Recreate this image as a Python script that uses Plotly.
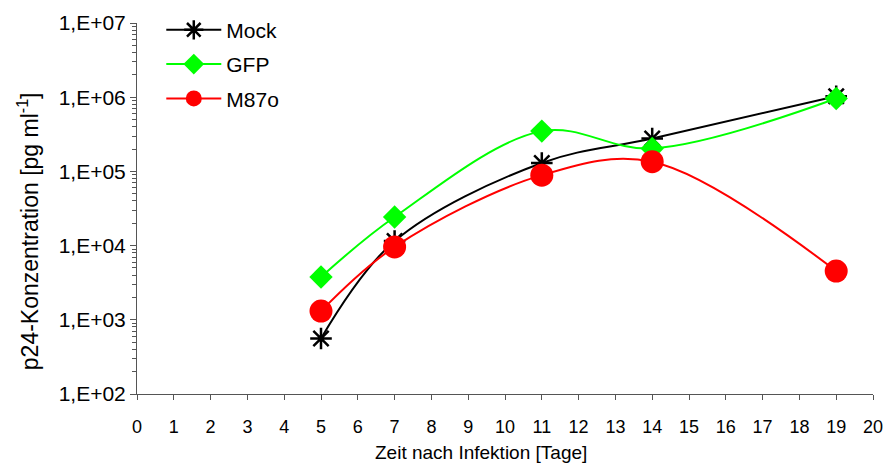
import plotly.graph_objects as go

# Tage nach Infektion
days = [5, 7, 11, 14, 19]

# p24-Konzentration in pg/ml
mock = [560, 11500, 130000, 278000, 1030000]
gfp = [3770, 24300, 349000, 204000, 960000]
m87o = [1310, 9600, 89000, 135000, 4540]

y_tick_vals = [1e2, 1e3, 1e4, 1e5, 1e6, 1e7]
y_tick_text = ["1,E+02", "1,E+03", "1,E+04", "1,E+05", "1,E+06", "1,E+07"]
x_tick_vals = list(range(0, 21))

minor_vals = [m * 10 ** e for e in range(2, 7) for m in range(2, 10)]

FONT = "Liberation Sans, Arial, sans-serif"

fig = go.Figure()

fig.add_trace(go.Scatter(
    x=days, y=mock, name="Mock", mode="lines+markers", legendgroup="mock",
    line=dict(color="black", width=2, shape="spline", smoothing=1),
    marker=dict(symbol="asterisk-open", size=18, color="black",
                line=dict(color="black", width=2.5)),
))
fig.add_trace(go.Scatter(
    x=days, y=gfp, name="GFP", mode="lines+markers", legendgroup="gfp",
    line=dict(color="#00ff00", width=2, shape="spline", smoothing=1),
    marker=dict(symbol="diamond", size=18, color="#00ff00"),
))
fig.add_trace(go.Scatter(
    x=days, y=m87o, name="M87o", mode="lines+markers", legendgroup="m87o",
    line=dict(color="#ff0000", width=2, shape="spline", smoothing=1),
    marker=dict(symbol="circle", size=23, color="#ff0000"),
))

fig.update_layout(
    width=887, height=466,
    margin=dict(l=137, r=14, t=23, b=72, autoexpand=False),
    paper_bgcolor="white", plot_bgcolor="white",
    font=dict(family=FONT, size=20, color="black"),
    showlegend=True,
    legend=dict(
        x=0.033, y=1.036, xanchor="left", yanchor="top",
        bgcolor="rgba(0,0,0,0)", font=dict(size=21, family=FONT),
        traceorder="grouped", tracegroupgap=4, itemwidth=55,
    ),
    annotations=[
        dict(text="Zeit nach Infektion [Tage]", xref="paper", yref="paper",
             x=0.467, y=-0.159, xanchor="center", yanchor="middle",
             showarrow=False, font=dict(size=19, family=FONT)),
        dict(text="p24-Konzentration [pg ml<sup>-1</sup>]", xref="paper", yref="paper",
             x=-0.148, y=0.439, xanchor="center", yanchor="middle", textangle=-90,
             showarrow=False, font=dict(size=23, family=FONT)),
    ],
)

fig.update_xaxes(
    range=[0, 20], tickmode="array", tickvals=x_tick_vals,
    ticks="outside", ticklen=5, tickwidth=1, tickcolor="#555555",
    showline=True, linecolor="#555555", linewidth=1,
    showgrid=False, zeroline=False, automargin=False,
    tickfont=dict(size=18, family=FONT), ticklabelstandoff=11,
)

fig.update_yaxes(
    type="log", range=[2, 7], tickmode="array",
    tickvals=y_tick_vals, ticktext=y_tick_text,
    ticks="outside", ticklen=6, tickwidth=1, tickcolor="#555555",
    minor=dict(tickmode="array", tickvals=minor_vals, ticks="outside",
               ticklen=4, tickwidth=1, tickcolor="#555555"),
    showline=True, linecolor="#555555", linewidth=1,
    showgrid=False, zeroline=False, automargin=False,
    tickfont=dict(size=21, family=FONT),
)

fig.write_html("out.html")
